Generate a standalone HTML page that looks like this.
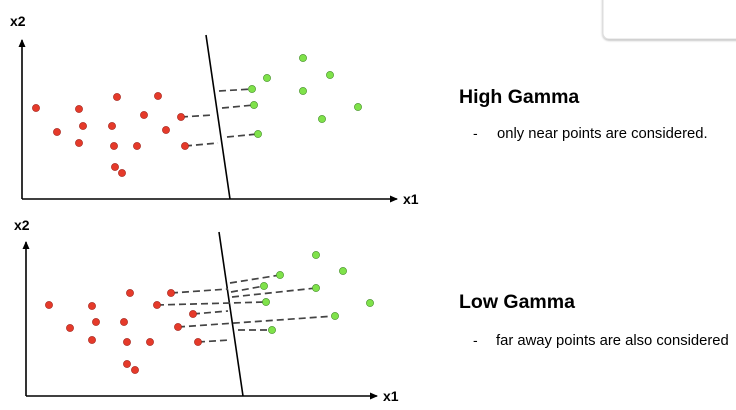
<!DOCTYPE html>
<html><head><meta charset="utf-8"><style>
html,body{margin:0;padding:0;background:#fff;width:736px;height:410px;overflow:hidden}
</style></head><body>
<svg width="736" height="410" viewBox="0 0 736 410" xmlns="http://www.w3.org/2000/svg" font-family="Liberation Sans, sans-serif">
<defs>
<marker id="ah" markerWidth="8" markerHeight="8" refX="7" refY="4" orient="auto" markerUnits="userSpaceOnUse">
<path d="M0,0.5 L8,4 L0,7.5 z" fill="#000"/></marker>
<filter id="sh" x="-10%" y="-50%" width="120%" height="200%"><feDropShadow dx="0" dy="1" stdDeviation="1" flood-color="#000" flood-opacity="0.3"/></filter>
</defs>
<rect x="603" y="-20" width="150" height="59" rx="6" fill="#fff" stroke="#ddd" filter="url(#sh)"/>
<!-- top chart -->
<line x1="22" y1="199" x2="22" y2="40" stroke="#000" stroke-width="1.6" marker-end="url(#ah)"/>
<line x1="22" y1="199" x2="397" y2="199" stroke="#000" stroke-width="1.6" marker-end="url(#ah)"/>
<text x="10" y="26" font-size="14" font-weight="bold">x2</text>
<text x="403" y="204" font-size="14" font-weight="bold">x1</text>
<line x1="206" y1="35" x2="230" y2="199" stroke="#000" stroke-width="1.6"/>
<g stroke="#444" stroke-width="1.7" stroke-dasharray="7,4" fill="none">
<path d="M219 91 L252 89"/><path d="M181 117 L213 115"/><path d="M222 108 L254 105"/>
<path d="M185 146 L218 143"/><path d="M227 137 L258 134"/>
</g>
<g fill="#e53a2a" stroke="#a02018" stroke-width="0.6">
<circle cx="36" cy="108" r="3.6"/><circle cx="79" cy="109" r="3.6"/><circle cx="117" cy="97" r="3.6"/><circle cx="158" cy="96" r="3.6"/>
<circle cx="57" cy="132" r="3.6"/><circle cx="83" cy="126" r="3.6"/><circle cx="112" cy="126" r="3.6"/><circle cx="144" cy="115" r="3.6"/>
<circle cx="181" cy="117" r="3.6"/><circle cx="79" cy="143" r="3.6"/><circle cx="114" cy="146" r="3.6"/><circle cx="137" cy="146" r="3.6"/>
<circle cx="166" cy="130" r="3.6"/><circle cx="185" cy="146" r="3.6"/><circle cx="115" cy="167" r="3.6"/><circle cx="122" cy="173" r="3.6"/>
</g>
<g fill="#7fe24a" stroke="#3d8a20" stroke-width="0.6">
<circle cx="252" cy="89" r="3.6"/><circle cx="254" cy="105" r="3.6"/><circle cx="258" cy="134" r="3.6"/><circle cx="267" cy="78" r="3.6"/>
<circle cx="303" cy="58" r="3.6"/><circle cx="330" cy="75" r="3.6"/><circle cx="303" cy="91" r="3.6"/><circle cx="358" cy="107" r="3.6"/><circle cx="322" cy="119" r="3.6"/>
</g>
<!-- bottom chart -->
<line x1="26" y1="396" x2="26" y2="242" stroke="#000" stroke-width="1.6" marker-end="url(#ah)"/>
<line x1="26" y1="396" x2="377" y2="396" stroke="#000" stroke-width="1.6" marker-end="url(#ah)"/>
<text x="14" y="230" font-size="14" font-weight="bold">x2</text>
<text x="383" y="401" font-size="14" font-weight="bold">x1</text>
<line x1="219" y1="232" x2="243" y2="396" stroke="#000" stroke-width="1.6"/>
<g stroke="#444" stroke-width="1.7" stroke-dasharray="7,4" fill="none">
<path d="M171 293 L228 289"/><path d="M230 283 L280 275"/><path d="M231 292 L264 286"/>
<path d="M157 305 L266 302"/><path d="M232 297 L316 288"/>
<path d="M193 314 L228 311"/><path d="M178 327 L335 316"/>
<path d="M198 342 L230 340"/><path d="M238 330 L272 330"/>
</g>
<g fill="#e53a2a" stroke="#a02018" stroke-width="0.6">
<circle cx="49" cy="305" r="3.6"/><circle cx="92" cy="306" r="3.6"/><circle cx="130" cy="293" r="3.6"/><circle cx="171" cy="293" r="3.6"/>
<circle cx="70" cy="328" r="3.6"/><circle cx="96" cy="322" r="3.6"/><circle cx="124" cy="322" r="3.6"/><circle cx="157" cy="305" r="3.6"/>
<circle cx="193" cy="314" r="3.6"/><circle cx="92" cy="340" r="3.6"/><circle cx="127" cy="342" r="3.6"/><circle cx="150" cy="342" r="3.6"/>
<circle cx="178" cy="327" r="3.6"/><circle cx="198" cy="342" r="3.6"/><circle cx="127" cy="364" r="3.6"/><circle cx="135" cy="370" r="3.6"/>
</g>
<g fill="#7fe24a" stroke="#3d8a20" stroke-width="0.6">
<circle cx="280" cy="275" r="3.6"/><circle cx="264" cy="286" r="3.6"/><circle cx="266" cy="302" r="3.6"/><circle cx="316" cy="288" r="3.6"/>
<circle cx="316" cy="255" r="3.6"/><circle cx="343" cy="271" r="3.6"/><circle cx="370" cy="303" r="3.6"/><circle cx="335" cy="316" r="3.6"/><circle cx="272" cy="330" r="3.6"/>
</g>
<!-- text -->
<text x="459" y="103" font-size="19.5" font-weight="bold">High Gamma</text>
<text x="473" y="138" font-size="14">-</text>
<text x="497" y="138" font-size="14.8">only near points are considered.</text>
<text x="459" y="308" font-size="19.5" font-weight="bold">Low Gamma</text>
<text x="473" y="345" font-size="14">-</text>
<text x="496" y="345" font-size="14.8">far away points are also considered</text>
</svg>
</body></html>
